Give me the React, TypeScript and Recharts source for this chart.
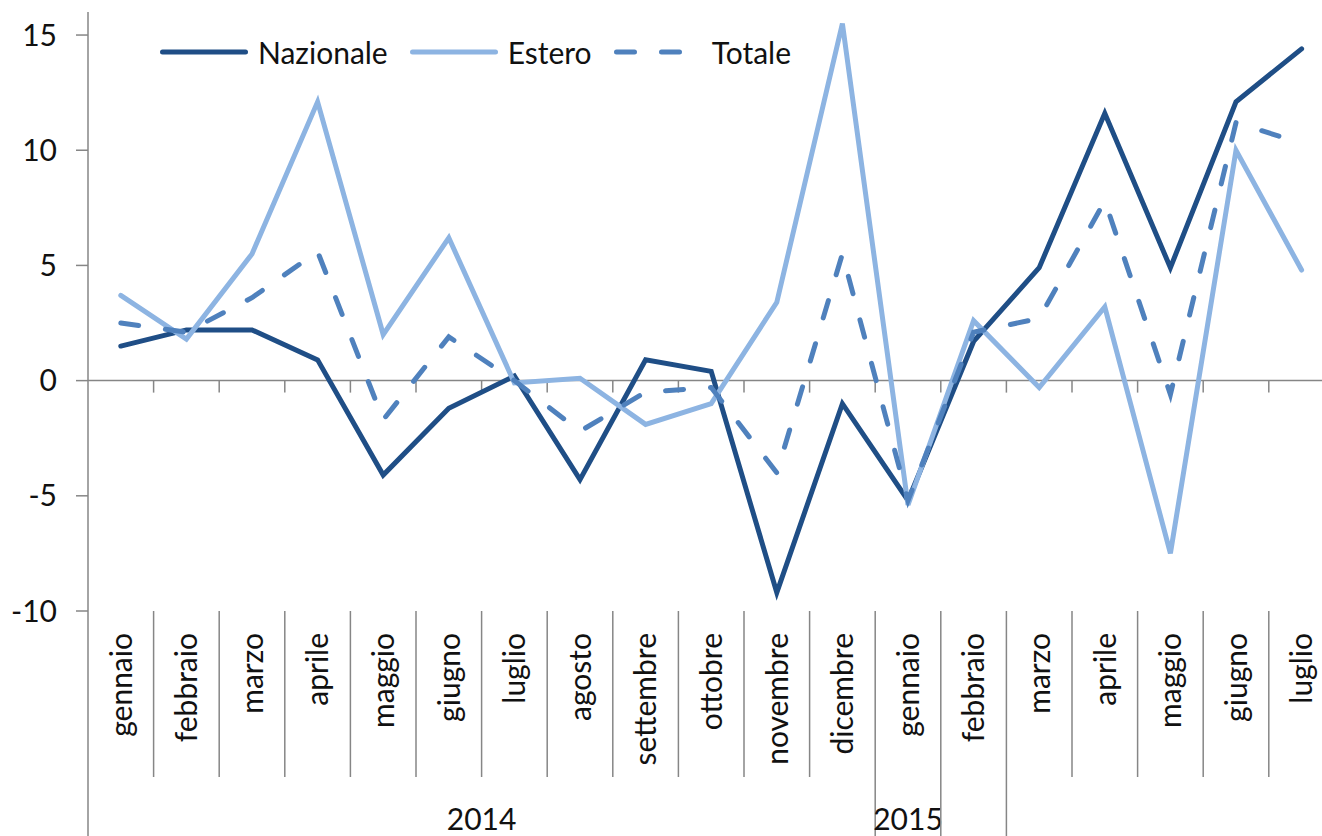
import React from "react";
import { LineChart, Line, XAxis, YAxis, ReferenceLine, Legend } from "recharts";

// categories
const months = [
  "gennaio", "febbraio", "marzo", "aprile", "maggio", "giugno", "luglio",
  "agosto", "settembre", "ottobre", "novembre", "dicembre",
  "gennaio", "febbraio", "marzo", "aprile", "maggio", "giugno", "luglio",
];
const years = [
  2014, 2014, 2014, 2014, 2014, 2014, 2014, 2014, 2014, 2014, 2014, 2014,
  2015, 2015, 2015, 2015, 2015, 2015, 2015,
];

// series values
const nazionale = [1.5, 2.2, 2.2, 0.9, -4.1, -1.2, 0.2, -4.3, 0.9, 0.4, -9.2, -1.0, -5.2, 1.7, 4.9, 11.6, 4.9, 12.1, 14.4];
const estero = [3.7, 1.8, 5.5, 12.1, 2.0, 6.2, -0.1, 0.1, -1.9, -1.0, 3.4, 15.5, -5.4, 2.6, -0.3, 3.2, -7.5, 10.0, 4.8];
const totale = [2.5, 2.1, 3.6, 5.6, -1.7, 1.9, 0.0, -2.2, -0.5, -0.3, -4.0, 5.5, -5.2, 2.1, 2.7, 7.8, -0.6, 11.2, 10.3];

// axis ticks and groups
const yTicks = [-10, -5, 0, 5, 10, 15];
const yearGroups = [
  { label: "2014", from: 0, to: 12 },
  { label: "2015", from: 12, to: 13 },
];
const longSeparators = [0, 12, 13, 14];

const FONT = "Lato, 'Open Sans', sans-serif";
const AXIS = "#868686";
const W = 1360;
const H = 836;
const LEFT = 88;
const TOP = 12;
const XAXIS_H = 225;
const PLOT_W = 1246.4;
const STEP = PLOT_W / months.length;

const series = [
  { key: "nazionale", name: "Nazionale", color: "#1F4E86", dash: undefined },
  { key: "estero", name: "Estero", color: "#8DB4E2", dash: undefined },
  { key: "totale", name: "Totale", color: "#4F81BD", dash: "18 27" },
];

const data = months.map((m, i) => ({
  key: `${years[i]}-${i}`,
  nazionale: nazionale[i],
  estero: estero[i],
  totale: totale[i],
}));

function MonthTick(props: any) {
  const { x, y, payload } = props;
  const i = payload.index ?? props.index;
  const left = x - STEP / 2;
  const long = longSeparators.includes(i);
  const group = yearGroups.find((g) => g.from === i);
  return (
    <g>
      <line x1={left} x2={left} y1={y} y2={long ? y + XAXIS_H : y + 166} stroke={AXIS} strokeWidth={1.5} />
      <text
        transform={`translate(${x}, ${y + 22}) rotate(-90)`}
        textAnchor="end"
        dy="0.36em"
        fontSize={30}
        fontFamily={FONT}
        fill="#111"
      >
        {months[i]}
      </text>
      {group && (
        <text
          x={left + ((group.to - group.from) * STEP) / 2}
          y={y + 219}
          textAnchor="middle"
          fontSize={30}
          fontFamily={FONT}
          fill="#111"
        >
          {group.label}
        </text>
      )}
    </g>
  );
}

function ZeroLine(props: any) {
  const { x1, y1, x2 } = props;
  const marks = months.slice(1).map((_, k) => x1 + (k + 1) * STEP);
  return (
    <g>
      <line x1={x1} x2={x2} y1={y1} y2={y1} stroke={AXIS} strokeWidth={1.5} />
      {marks.map((mx, k) => (
        <line key={k} x1={mx} x2={mx} y1={y1} y2={y1 + 12} stroke={AXIS} strokeWidth={1.5} />
      ))}
    </g>
  );
}

function LegendContent() {
  return (
    <div style={{ display: "flex", alignItems: "center", fontFamily: FONT, fontSize: 30, color: "#111" }}>
      {series.map((s) => (
        <div key={s.key} style={{ display: "flex", alignItems: "center", marginRight: 22 }}>
          <svg width={88} height={10}>
            <line
              x1={2.5}
              x2={85.5}
              y1={5}
              y2={5}
              stroke={s.color}
              strokeWidth={5}
              strokeLinecap="round"
              strokeDasharray={s.dash}
            />
          </svg>
          <span style={{ marginLeft: 10 }}>{s.name}</span>
        </div>
      ))}
    </div>
  );
}

export default function App() {
  return (
    <div
      style={{
        position: "fixed",
        left: 0,
        top: 0,
        width: 1322,
        height: 836,
        overflow: "hidden",
        background: "#fff",
      }}
    >
      <LineChart width={W} height={H} data={data} margin={{ top: TOP, right: W - LEFT - PLOT_W, bottom: 0, left: 0 }}>
        <XAxis
          dataKey="key"
          interval={0}
          axisLine={false}
          tickLine={false}
          tickSize={0}
          tickMargin={0}
          height={XAXIS_H}
          padding={{ left: STEP / 2, right: STEP / 2 }}
          tick={<MonthTick />}
        />
        <YAxis
          domain={[-10, 16]}
          ticks={yTicks}
          width={LEFT}
          allowDataOverflow
          axisLine={{ stroke: AXIS, strokeWidth: 1.5 }}
          tickLine={{ stroke: AXIS, strokeWidth: 1.5 }}
          tickSize={12}
          tickMargin={19}
          tick={{ fontSize: 30, fontFamily: FONT, fill: "#111" }}
        />
        <ReferenceLine y={0} shape={<ZeroLine />} />
        <Legend
          layout="horizontal"
          verticalAlign="middle"
          align="center"
          content={<LegendContent />}
          wrapperStyle={{ position: "absolute", top: 34, left: 160, width: "auto" }}
        />
        {series.map((s) => (
          <Line
            key={s.key}
            type="linear"
            dataKey={s.key}
            name={s.name}
            stroke={s.color}
            strokeWidth={5}
            strokeDasharray={s.dash}
            strokeLinecap="round"
            dot={false}
            activeDot={false}
            isAnimationActive={false}
          />
        ))}
      </LineChart>
    </div>
  );
}
